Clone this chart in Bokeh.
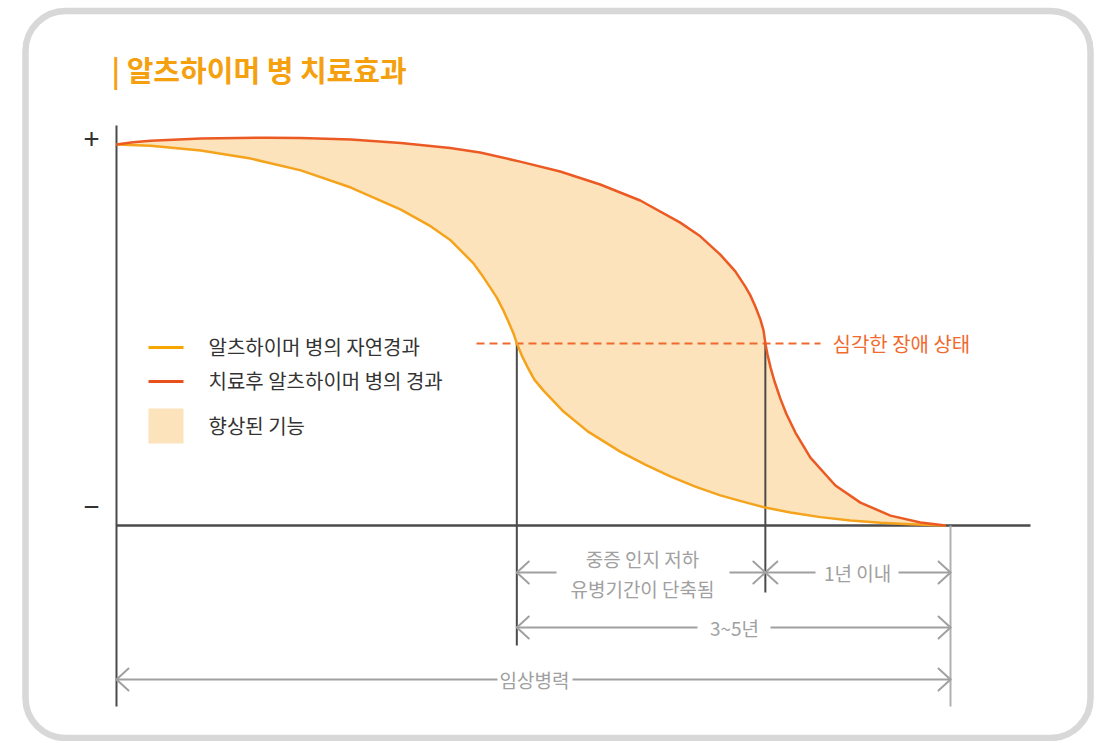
from bokeh.plotting import figure
from bokeh.models import Range1d, BoxAnnotation
from bokeh.core.properties import value
from bokeh.embed import file_html
from bokeh.resources import INLINE

# ---- data (x: clinical course 0..100, y: cognitive function 0..100) ----
natural_x = [0.0, 4.1, 10.1, 16.1, 22.1, 28.1, 34.1, 37.7, 40.1, 42.8, 43.7, 44.8, 45.6,
             46.4, 47.0, 47.6, 48.0, 48.6, 49.3, 50.1, 51.2, 53.6, 56.5, 60.4, 63.4,
             66.4, 69.4, 72.4, 75.2, 77.8, 80.8, 84.4, 88.0, 91.6, 95.2, 99.4]
natural_y = [100.0, 99.7, 98.4, 96.3, 93.2, 88.7, 82.9, 78.5, 74.8, 68.8, 66.1, 62.5, 59.8,
             56.4, 53.5, 50.4, 47.8, 44.6, 41.5, 38.3, 35.4, 29.9, 24.7, 19.4, 16.0,
             12.9, 10.2, 7.9, 6.2, 4.7, 3.4, 2.2, 1.3, 0.7, 0.3, 0.0]
treated_x = [0.0, 2.0, 4.1, 10.1, 18.1, 22.1, 28.1, 34.1, 40.0, 43.6, 48.4, 53.2, 58.0, 62.8,
             67.6, 70.0, 72.4, 74.2, 75.4, 76.0, 76.6, 77.2, 77.58, 77.8, 78.06, 78.42,
             78.9, 79.6, 80.3, 81.4, 83.2, 86.2, 89.2, 92.8, 96.4, 99.4]
treated_y = [100.0, 100.6, 101.0, 101.6, 101.8, 101.7, 101.3, 100.4, 99.1, 97.9, 95.5, 92.9,
             89.5, 85.3, 79.5, 75.9, 71.1, 66.7, 62.7, 60.4, 57.5, 54.1, 51.2, 47.8, 44.9,
             41.5, 37.8, 33.3, 29.4, 24.4, 17.8, 10.5, 6.0, 2.6, 0.8, 0.0]
severe_level = 47.8
natural_cross = 48.0
treated_cross = 77.8
course_end = 100

title_text = "| 알츠하이머 병 치료효과"
legend_labels = ["알츠하이머 병의 자연경과", "치료후 알츠하이머 병의 경과", "향상된 기능"]
severe_label = "심각한 장애 상태"
span_labels = ["중증 인지 저하\n유병기간이 단축됨", "1년 이내", "3~5년", "임상병력"]
axis_labels = ["+", "−"]

# ---- pixel <-> data mapping helpers ----
W, H = 1100, 741
X0, SX = 116.0, 8.34
Y0, SY = 525.0, 3.81
def dx(px): return (px - X0) / SX
def dy(py): return (Y0 - py) / SY

FONT = value("Noto Sans CJK KR")
ORANGE = "#f5a31c"
RED = "#ec5a24"
FILL = "#fce3bb"
DARK = "#4a4a4a"
GRAY = "#a0a0a0"

p = figure(width=W, height=H, output_backend="svg", toolbar_location=None,
           x_range=Range1d(dx(0), dx(W)), y_range=Range1d(dy(H), dy(0)),
           x_axis_type=None, y_axis_type=None, min_border=0,
           outline_line_color=None, background_fill_color="white",
           border_fill_color="white")
p.xgrid.visible = False
p.ygrid.visible = False

# rounded frame
p.add_layout(BoxAnnotation(left=dx(25), right=dx(1090), top=dy(10.5), bottom=dy(737.5),
                           fill_color=None, fill_alpha=0, line_color="#d8d8d8",
                           line_alpha=1, line_width=6.5, border_radius=40))

# improved-function area
p.patch(treated_x + natural_x[::-1], treated_y + natural_y[::-1],
        fill_color=FILL, line_color=None)

# axes
p.segment(x0=[0], y0=[dy(125)], x1=[0], y1=[dy(706)], line_color=DARK, line_width=2)
p.segment(x0=[0], y0=[0], x1=[dx(1030)], y1=[0], line_color=DARK, line_width=2.5)
p.text(x=[dx(91), dx(91)], y=[dy(138), dy(506)], text=axis_labels, text_font=FONT,
       text_font_size="28px", text_color="#333333", text_align="center",
       text_baseline="middle")

# vertical markers
p.segment(x0=[natural_cross, treated_cross], y0=[severe_level, severe_level],
          x1=[natural_cross, treated_cross], y1=[dy(645), dy(592)],
          line_color=DARK, line_width=2)
p.segment(x0=[course_end], y0=[0], x1=[course_end], y1=[dy(706)],
          line_color="#b0b0b0", line_width=2)

# severe threshold
p.line([dx(476), dx(820)], [severe_level, severe_level], line_color="#f06a30",
       line_width=2, line_dash="8 5")
p.text(x=[dx(832)], y=[severe_level], text=[severe_label], text_font=FONT,
       text_font_size="20px", text_color="#f06a30", text_baseline="middle")

# curves
p.line(natural_x, natural_y, line_color=ORANGE, line_width=2.5, line_join="round")
p.line(treated_x, treated_y, line_color=RED, line_width=2.5, line_join="round")

# span arrows: (x_start, x_end, y_px, gap_px_left, gap_px_right)
spans = [
    (natural_cross, treated_cross, 572, 556, 729),
    (treated_cross, course_end, 572, 815, 898),
    (natural_cross, course_end, 627, 697, 770),
    (0, course_end, 679, 497, 572),
]
sx0, sy0, sx1, sy1 = [], [], [], []
hx0, hy0, hx1, hy1 = [], [], [], []
hl, hh = 12 / SX, 11 / SY
for (a, b, ypx, g0, g1) in spans:
    y = dy(ypx)
    sx0 += [a, dx(g1)]; sx1 += [dx(g0), b]; sy0 += [y, y]; sy1 += [y, y]
    for tip, d in ((a, 1), (b, -1)):
        for s in (1, -1):
            hx0.append(tip); hy0.append(y)
            hx1.append(tip + d * hl); hy1.append(y + s * hh)
p.segment(sx0, sy0, sx1, sy1, line_color=GRAY, line_width=2)
p.segment(hx0, hy0, hx1, hy1, line_color=GRAY, line_width=2, line_cap="round")

p.text(x=[dx(642), dx(642)], y=[dy(558), dy(588)],
       text=span_labels[0].split("\n"), text_font=FONT, text_font_size="19px",
       text_color=GRAY, text_align="center", text_baseline="middle")
p.text(x=[dx(857), dx(734), dx(534)], y=[dy(572), dy(627), dy(679)],
       text=span_labels[1:], text_font=FONT, text_font_size="19px",
       text_color=GRAY, text_align="center", text_baseline="middle")

# legend
p.segment(x0=[dx(148), dx(148)], y0=[dy(347), dy(381)], x1=[dx(183), dx(183)],
          y1=[dy(347), dy(381)], line_color=["#f7a600", "#e8501e"], line_width=3)
p.quad(left=[dx(148)], right=[dx(183)], top=[dy(408)], bottom=[dy(443)],
       fill_color=FILL, line_color=None)
p.text(x=[dx(208)] * 3, y=[dy(346), dy(380), dy(425)], text=legend_labels,
       text_font=FONT, text_font_size="20px", text_color="#333333",
       text_baseline="middle")

# title
p.text(x=[dx(111)], y=[dy(68)], text=[title_text], text_font=FONT,
       text_font_size="29px", text_font_style="bold", text_color="#f5a00f",
       text_baseline="middle")

open("out.html", "w").write(file_html(p, INLINE))
